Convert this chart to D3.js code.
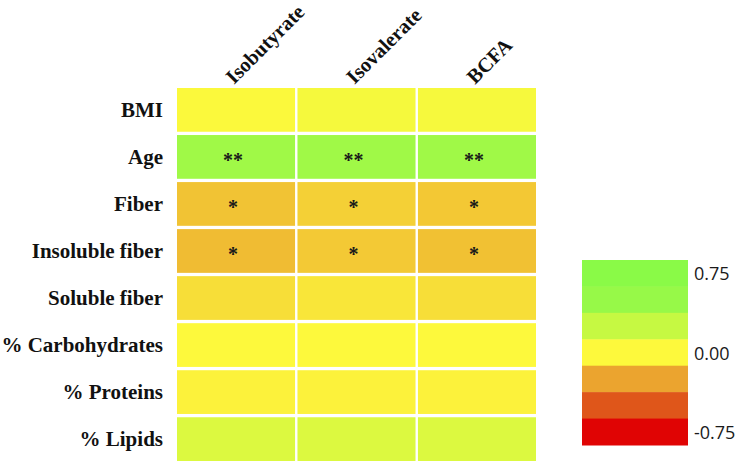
<!DOCTYPE html>
<html>
<head>
<meta charset="utf-8">
<script src="https://cdn.jsdelivr.net/npm/d3@7"></script>
<style>
  body { margin: 0; background: #fff; }
</style>
</head>
<body>
<div id="chart"></div>
<script>
// correlation of branched short chain fatty acids with diet / subject variables
const columns = ["Isobutyrate", "Isovalerate", "BCFA"];
const rows = ["BMI", "Age", "Fiber", "Insoluble fiber", "Soluble fiber", "% Carbohydrates", "% Proteins", "% Lipids"];

const isobutyrate = [0.01, 0.45, -0.16, -0.18, -0.08, 0.0, -0.02, 0.15];
const isovalerate = [0.035, 0.45, -0.12, -0.14, -0.056, 0.0, -0.02, 0.15];
const bcfa = [0.03, 0.45, -0.145, -0.165, -0.078, 0.0, -0.02, 0.15];

const isobutyrateSig = ["", "**", "*", "*", "", "", "", ""];
const isovalerateSig = ["", "**", "*", "*", "", "", "", ""];
const bcfaSig = ["", "**", "*", "*", "", "", "", ""];

// legend: one colour step per 0.25, top to bottom
const legendSteps = [0.75, 0.5, 0.25, 0, -0.25, -0.5, -0.75];
const stepColors = ["#8afa47", "#97f948", "#c6f942", "#fdf93c", "#eba42f", "#df561a", "#e00404"];
const legendTicks = [0.75, 0, -0.75];

const width = 739;
const height = 468;

const series = [isobutyrate, isovalerate, bcfa];
const stars = [isobutyrateSig, isovalerateSig, bcfaSig];

const cells = [];
columns.forEach((c, i) => {
    rows.forEach((r, j) => {
        cells.push({col: c, row: r, value: series[i][j], sig: stars[i][j]});
    });
});

const color = d3.scaleLinear()
    .domain(legendSteps)
    .range(stepColors)
    .clamp(true);

const x = d3.scaleBand()
    .domain(columns)
    .range([177, 536])
    .paddingInner(0.02);

const y = d3.scaleBand()
    .domain(rows)
    .range([88, 461])
    .paddingInner(0.07);

const svg = d3.select("#chart").append("svg")
    .attr("width", width)
    .attr("height", height)
    .attr("viewBox", [0, 0, width, height])
    .style("background", "#fff");

const serif = "'Liberation Serif', 'Times New Roman', serif";

// cells
svg.append("g")
    .selectAll("rect")
    .data(cells)
    .join("rect")
    .attr("x", d => x(d.col))
    .attr("y", d => y(d.row))
    .attr("width", x.bandwidth())
    .attr("height", y.bandwidth())
    .attr("fill", d => color(d.value));

// significance marks
svg.append("g")
    .attr("font-family", serif)
    .attr("font-weight", "bold")
    .attr("font-size", 20)
    .attr("fill", "#1a1a1a")
    .attr("text-anchor", "middle")
    .selectAll("text")
    .data(cells.filter(d => d.sig))
    .join("text")
    .attr("x", d => x(d.col) + x.bandwidth() / 2 - 3)
    .attr("y", d => y(d.row) + y.bandwidth() / 2)
    .attr("dy", "0.52em")
    .text(d => d.sig);

// row labels
svg.append("g")
    .attr("font-family", serif)
    .attr("font-weight", "bold")
    .attr("font-size", 21)
    .attr("fill", "#111")
    .attr("text-anchor", "end")
    .selectAll("text")
    .data(rows)
    .join("text")
    .attr("x", x.range()[0] - 14)
    .attr("y", d => y(d) + y.bandwidth() / 2)
    .attr("dy", "0.34em")
    .text(d => d);

// column headers, rotated
svg.append("g")
    .attr("font-family", serif)
    .attr("font-weight", "bold")
    .attr("font-size", 20.5)
    .attr("fill", "#111")
    .selectAll("text")
    .data(columns)
    .join("text")
    .attr("transform", d => `translate(${x(d) + x.bandwidth() / 2 - 2}, 85) rotate(-45)`)
    .text(d => d);

// legend
const legend = svg.append("g");

const ly = d3.scaleBand()
    .domain(legendSteps)
    .range([260, 445]);

legend.selectAll("rect")
    .data(legendSteps)
    .join("rect")
    .attr("x", 582)
    .attr("y", d => ly(d))
    .attr("width", 106)
    .attr("height", ly.bandwidth() + 0.5)
    .attr("fill", d => color(d));

legend.selectAll("text")
    .data(legendTicks)
    .join("text")
    .attr("x", 694)
    .attr("y", d => ly(d) + ly.bandwidth() / 2)
    .attr("dy", "0.4em")
    .attr("font-family", "'Open Sans', sans-serif")
    .attr("font-size", 18)
    .attr("fill", "#1a1a1a")
    .text(d => d3.format(".2f")(d).replace("\u2212", "-"));
</script>
</body>
</html>
